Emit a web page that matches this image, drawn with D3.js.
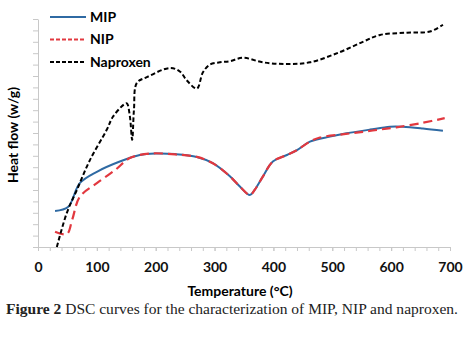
<!DOCTYPE html>
<html>
<head>
<meta charset="utf-8">
<script src="https://cdn.jsdelivr.net/npm/d3@7"></script>
<style>
  body { margin: 0; background: #fff; }
  svg { display: block; }
  .axis path, .axis line { stroke: #c8c8c8; }
  .axis text { font-family: Lato, sans-serif; font-weight: bold; font-size: 14px; fill: #111; }
</style>
</head>
<body>
<div id="chart"></div>
<script>
// --- data (temperature in °C, heat flow in tick units) ---
const mipTemp = [29, 51, 71, 100, 139, 173, 199, 233, 270, 297, 326, 343, 360, 368, 382, 399, 423, 440, 462, 496, 524, 564, 598, 620, 654, 688];
const mipFlow = [3.16, 3.5, 5.6, 6.6, 7.5, 8.07, 8.2, 8.15, 7.9, 7.35, 6.2, 5.3, 4.56, 5.0, 6.17, 7.5, 8.07, 8.5, 9.24, 9.68, 9.97, 10.3, 10.55, 10.55, 10.4, 10.2];

const nipTemp = [29, 49, 58, 71, 100, 131, 156, 190, 233, 270, 297, 326, 343, 360, 368, 382, 399, 423, 440, 462, 479, 520, 552, 580, 609, 654, 691];
const nipFlow = [1.34, 1.14, 2.37, 4.4, 5.6, 6.75, 7.8, 8.2, 8.12, 7.9, 7.35, 6.2, 5.3, 4.56, 5.0, 6.17, 7.5, 8.07, 8.5, 9.24, 9.6, 9.9, 10.1, 10.3, 10.5, 10.9, 11.3];

const napTemp = [32, 49, 66, 88, 117, 127, 146, 151, 156, 160, 163, 168, 185, 224, 241, 253, 270, 280, 292, 309, 326, 348, 382, 422, 462, 513, 552, 581, 627, 666, 688];
const napFlow = [0, 3.0, 5.0, 7.6, 10.3, 11.4, 12.5, 12.6, 11.5, 9.4, 12.0, 14.4, 14.9, 15.7, 15.4, 14.6, 13.9, 15.3, 16.0, 16.2, 16.3, 16.6, 16.2, 16.05, 16.2, 17.1, 18.0, 18.6, 18.8, 18.9, 19.5];

const xMajorTicks = [0, 100, 200, 300, 400, 500, 600, 700];
const seriesNames = ["MIP", "NIP", "Naproxen"];

const series = [
  { name: seriesNames[0], temp: mipTemp, flow: mipFlow, color: "#2f6aa3", dash: null, legendDash: null, width: 2 },
  { name: seriesNames[1], temp: nipTemp, flow: nipFlow, color: "#e2383f", dash: "9,5", legendDash: "4,2", width: 2.2 },
  { name: seriesNames[2], temp: napTemp, flow: napFlow, color: "#000", dash: "4.5,2.5", legendDash: "4,2", width: 2 }
];

const W = 471, H = 343;
const margin = { left: 38, right: 21, top: 19, bottom: 96 };
const width = W - margin.left - margin.right;
const height = H - margin.top - margin.bottom;

const svg = d3.select("#chart").append("svg")
  .attr("width", W)
  .attr("height", H);

const g = svg.append("g")
  .attr("transform", "translate(" + margin.left + "," + margin.top + ")");

const x = d3.scaleLinear().domain([0, 700]).range([0, width]);
const y = d3.scaleLinear().domain([0, 20]).range([height, 0]);

// minor x ticks every 20
g.append("g")
  .attr("class", "axis")
  .attr("transform", "translate(0," + height + ")")
  .call(d3.axisBottom(x).tickValues(d3.range(0, 701, 20)).tickSize(4).tickFormat(""))
  .select(".domain").remove();

// major x ticks + labels
g.append("g")
  .attr("class", "axis x-axis")
  .attr("transform", "translate(0," + height + ")")
  .call(d3.axisBottom(x).tickValues(xMajorTicks).tickSize(4).tickSizeOuter(0).tickPadding(11));

// y axis, unlabeled
g.append("g")
  .attr("class", "axis")
  .call(d3.axisLeft(y).tickValues(d3.range(0, 21, 1)).tickSize(5).tickSizeOuter(0).tickFormat(""));

// curves
const line = d3.line()
  .x(d => x(d[0]))
  .y(d => y(d[1]))
  .curve(d3.curveCatmullRom.alpha(0.5));

series.forEach(s => {
  g.append("path")
    .datum(s.temp.map((t, i) => [t, s.flow[i]]))
    .attr("fill", "none")
    .attr("stroke", s.color)
    .attr("stroke-width", s.width)
    .attr("stroke-dasharray", s.dash)
    .attr("d", line);
});

// legend
const legend = svg.append("g").attr("transform", "translate(50,17)");
series.forEach((s, i) => {
  const row = legend.append("g").attr("transform", "translate(0," + (i * 22.5) + ")");
  row.append("line")
    .attr("x1", 0).attr("x2", 36)
    .attr("stroke", s.color)
    .attr("stroke-width", s.width)
    .attr("stroke-dasharray", s.legendDash);
  row.append("text")
    .attr("x", 40)
    .attr("dy", "0.35em")
    .style("font-family", "Lato, sans-serif")
    .style("font-weight", "bold")
    .style("font-size", "14px")
    .text(s.name);
});

// axis titles
svg.append("text")
  .attr("x", margin.left + width / 2 - 4)
  .attr("y", 296)
  .attr("text-anchor", "middle")
  .style("font-family", "Lato, sans-serif")
  .style("font-weight", "bold")
  .style("font-size", "14px")
  .text("Temperature (°C)");

svg.append("text")
  .attr("transform", "translate(18,135) rotate(-90)")
  .attr("text-anchor", "middle")
  .style("font-family", "Lato, sans-serif")
  .style("font-weight", "bold")
  .style("font-size", "14px")
  .text("Heat flow (w/g)");

// caption
const cap = svg.append("text")
  .attr("x", 6)
  .attr("y", 314)
  .attr("textLength", 452)
  .attr("lengthAdjust", "spacingAndGlyphs")
  .style("font-family", "'Liberation Serif', serif")
  .style("font-size", "14px")
  .style("fill", "#222");
cap.append("tspan").style("font-weight", "bold").text("Figure 2");
cap.append("tspan").text(" DSC curves for the characterization of MIP, NIP and naproxen.");
</script>
</body>
</html>
